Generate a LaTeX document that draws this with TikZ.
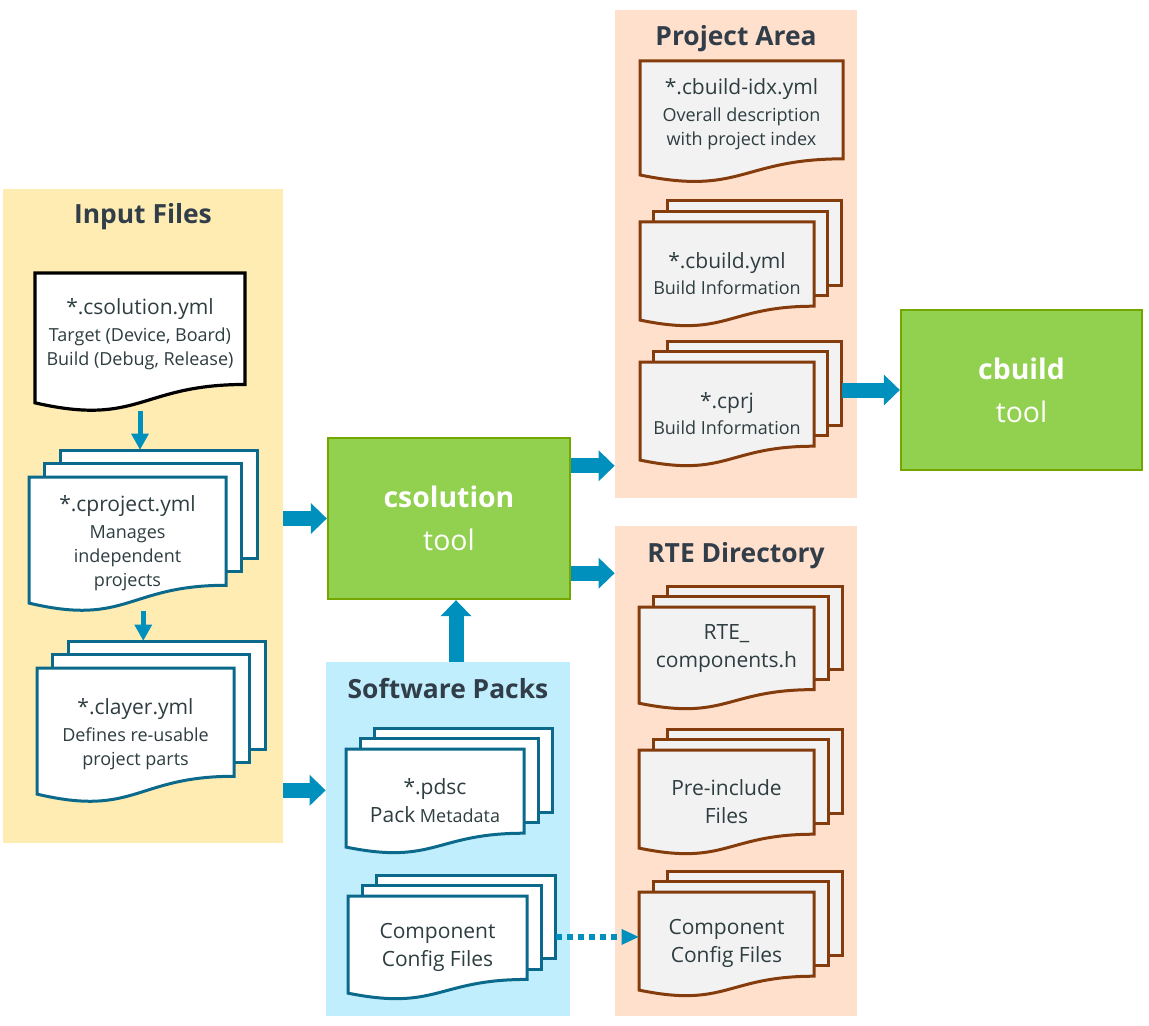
\documentclass[tikz,border=0pt]{standalone}
\usepackage{fontspec}
\setmainfont{Open Sans}
\usetikzlibrary{arrows.meta,calc,fit}

\definecolor{inputbg}{HTML}{FFECB3}
\definecolor{projbg}{HTML}{FFE0CC}
\definecolor{packbg}{HTML}{C0EEFC}
\definecolor{toolgreen}{HTML}{92D050}
\definecolor{toolline}{HTML}{73A700}
\definecolor{arrowblue}{HTML}{0090BD}
\definecolor{docblue}{HTML}{0B6A8C}
\definecolor{docbrown}{HTML}{843C0C}
\definecolor{docgray}{HTML}{F2F2F2}
\definecolor{headcol}{HTML}{313D48}
\definecolor{txtcol}{HTML}{2E3D40}

\tikzset{
  panel/.style={inner sep=0pt},
  headtext/.style={text=headcol, font=\fontsize{13.2}{15}\selectfont\bfseries},
  doctext/.style={text=txtcol, align=center, font=\fontsize{9}{12}\selectfont},
  toolbox/.style={fill=toolgreen, draw=toolline, line width=1.2pt, inner sep=0pt},
  tooltext/.style={text=white, align=center, font=\fontsize{14.2}{21.5}\selectfont},
  blackdoc/.style={draw=black, fill=white, line width=1.6pt},
  bluedoc/.style={draw=docblue, fill=white, line width=1.5pt},
  browndoc/.style={draw=docbrown, fill=docgray, line width=1.5pt},
  bigarrow/.style={draw=arrowblue, line width=7.5pt, -{Triangle[width=15.5pt,length=8pt,line width=0pt]}},
  thinarrow/.style={draw=arrowblue, line width=2.5pt, -{Triangle[width=9pt,length=8pt,line width=0pt]}},
  dotarrow/.style={draw=arrowblue, line width=2.75pt, dash pattern=on 3.2pt off 2.3pt, -{Triangle[width=8pt,length=8.5pt,line width=0pt]}}
}

% larger first line of a file sheet
\newcommand{\fname}[1]{{\fontsize{10.5}{13}\selectfont #1}}
% height of the text in a stack, as part of the sheet
\newcommand{\stackty}{0.49}

% one sheet with a wavy lower edge: style, x, y, w, h
\newcommand{\docsheet}[5]{%
  \draw[#1] (#2,#3) -- (#2+#4,#3) -- (#2+#4,#3+0.802*#5)
    .. controls (#2+0.5*#4,#3+0.802*#5) and (#2+0.5*#4,#3+1.107*#5) .. (#2,#3+0.934*#5) -- cycle;}

% name, style, x, y, w, h, text
\newcommand{\singledoc}[7]{%
  \docsheet{#2}{#3}{#4}{#5}{#6}
  \node[fit={(#3,#4) (#3+#5,#4+0.987*#6)}, inner sep=0pt] (#1) {};
  \node[doctext] (#1-t) at (#3+0.5*#5,#4+0.437*#6) {#7};}

\newcommand{\docstack}[7]{%
  \draw[#2] (#3+0.16*#5,#4-0.2*#6) rectangle ++(#5,0.802*#6);
  \draw[#2] (#3+0.08*#5,#4-0.1*#6) rectangle ++(#5,0.802*#6);
  \docsheet{#2}{#3}{#4}{#5}{#6}
  \node[fit={(#3,#4-0.2*#6) (#3+1.16*#5,#4+0.987*#6)}, inner sep=0pt] (#1) {};
  \node[doctext] (#1-t) at (#3+0.5*#5,#4+\stackty*#6) {#7};}

\begin{document}
\begin{tikzpicture}[x=0.5pt,y=-0.5pt]
  \useasboundingbox (0,0) rectangle (1149,1026);

  % areas
  \node[panel, fill=inputbg, fit={(3,189) (283,843)}] (inputs) {};
  \node[panel, fill=projbg, fit={(615,10) (857,498)}] (projarea) {};
  \node[panel, fill=projbg, fit={(615,526) (857,1016)}] (rtedir) {};
  \node[panel, fill=packbg, fit={(326,662) (570,1016)}] (packs) {};
  \node[headtext] (inputs-h) at (143,217) {Input Files};
  \node[headtext] (projarea-h) at (736,39) {Project Area};
  \node[headtext] (rtedir-h) at (736,556) {RTE Directory};
  \node[headtext] (packs-h) at (448,689) {Software Packs};

  % tools
  \node[toolbox, fit={(328,438) (570,599)}] (csol) {};
  \node[tooltext] (csol-t) at (csol.center) {\textbf{csolution}\\tool};
  \node[toolbox, fit={(901,310) (1142,470)}] (cbuild) {};
  \node[tooltext] (cbuild-t) at (cbuild.center) {\textbf{cbuild}\\tool};

  % files
  \singledoc{sol}{blackdoc}{35}{273}{210}{139}{\fname{*.csolution.yml}\\[1.5pt]Target (Device, Board)\\Build (Debug, Release)}
  \docstack{proj}{bluedoc}{29}{477}{197}{135}{\fname{*.cproject.yml}\\[1.5pt]Manages\\independent\\projects}
  \docstack{layer}{bluedoc}{37}{668}{197}{135}{\fname{*.clayer.yml}\\[1.5pt]Defines re-usable\\project parts}
  \docstack{pdsc}{bluedoc}{346}{749}{178}{105}{\fname{*.pdsc}\\[2pt]\fname{Pack} Metadata}
  \docstack{swcfg}{bluedoc}{348}{896}{179}{104}{\fname{Component}\\[2pt]\fname{Config Files}}
  \singledoc{idx}{browndoc}{640}{61}{203}{122}{\fname{*.cbuild-idx.yml}\\[1.5pt]Overall description\\with project index}
  \docstack{cbyml}{browndoc}{640}{222}{174}{105}{\fname{*.cbuild.yml}\\[1pt]Build Information}
  \docstack{cprj}{browndoc}{640}{362}{174}{105}{\fname{*.cprj}\\[1pt]Build Information}
  {\renewcommand{\stackty}{0.4}
  \docstack{rtecomp}{browndoc}{639}{607}{175}{103}{\fname{RTE\_}\\[2pt]\fname{components.h}}}
  \docstack{preinc}{browndoc}{639}{750}{175}{105}{\fname{Pre-include}\\[2pt]\fname{Files}}
  \docstack{rtecfg}{browndoc}{639}{892}{175}{105}{\fname{Component}\\[2pt]\fname{Config Files}}

  % flow
  \draw[thinarrow] (sol.south) -- (sol.south |- proj.north);
  \draw[thinarrow] (proj.south) -- (proj.south |- layer.north);
  \draw[bigarrow] (csol.west -| inputs.east) -- (csol.west);
  \draw[bigarrow] (pdsc.west -| inputs.east) -- (pdsc.west -| packs.west);
  \coordinate (sw-up) at ($(packs.north)+(8,0)$);
  \draw[bigarrow] (sw-up) -- (sw-up |- csol.south);
  \coordinate (to-proj) at ($(csol.north east)+(0,29)$);
  \draw[bigarrow] (to-proj) -- (to-proj -| projarea.west);
  \coordinate (to-rte) at ($(csol.south east)+(0,-27)$);
  \draw[bigarrow] (to-rte) -- (to-rte -| rtedir.west);
  \draw[bigarrow] (cprj.east |- cbuild.west) -- (cbuild.west);
  \draw[dotarrow] (swcfg.east) -- (swcfg.east -| rtecfg.west);
\end{tikzpicture}
\end{document}
